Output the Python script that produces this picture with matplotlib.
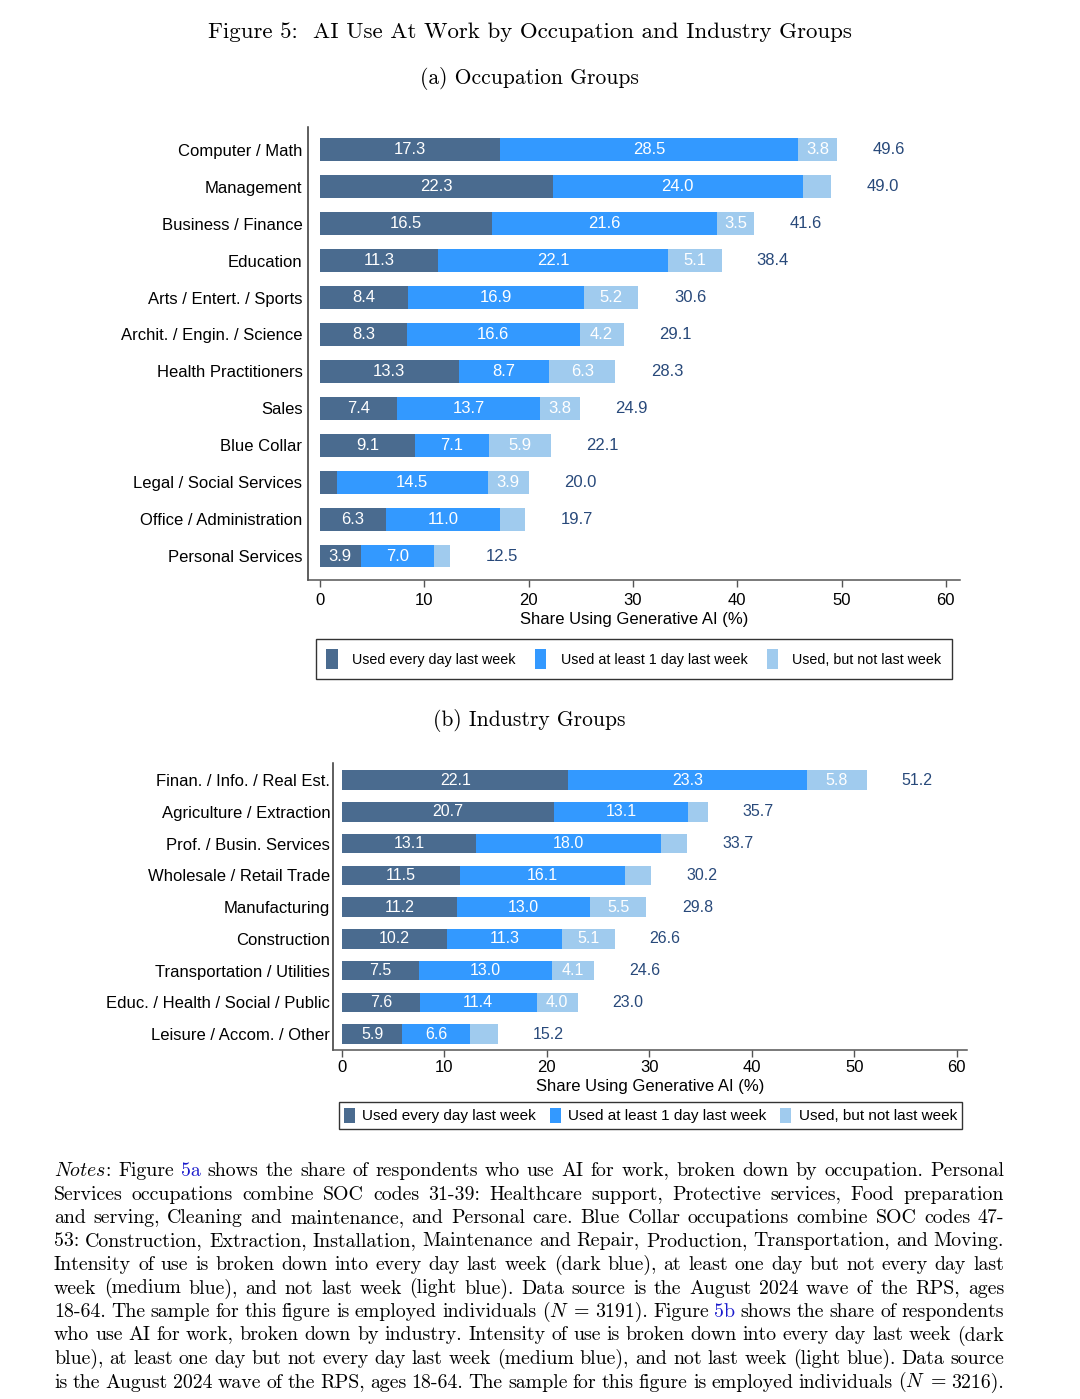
import matplotlib
matplotlib.use('Agg')
import matplotlib.pyplot as plt
from matplotlib.patches import Patch
import numpy as np

# ---------------- data ----------------
occ_labels = ['Computer / Math', 'Management', 'Business / Finance', 'Education',
              'Arts / Entert. / Sports', 'Archit. / Engin. / Science',
              'Health Practitioners', 'Sales', 'Blue Collar',
              'Legal / Social Services', 'Office / Administration', 'Personal Services']
occ_daily = [17.3, 22.3, 16.5, 11.3, 8.4, 8.3, 13.3, 7.4, 9.1, 1.6, 6.3, 3.9]
occ_weekly = [28.5, 24.0, 21.6, 22.1, 16.9, 16.6, 8.7, 13.7, 7.1, 14.5, 11.0, 7.0]
occ_notweek = [3.8, 2.7, 3.5, 5.1, 5.2, 4.2, 6.3, 3.8, 5.9, 3.9, 2.4, 1.6]
occ_total = [49.6, 49.0, 41.6, 38.4, 30.6, 29.1, 28.3, 24.9, 22.1, 20.0, 19.7, 12.5]

ind_labels = ['Finan. / Info. / Real Est.', 'Agriculture / Extraction',
              'Prof. / Busin. Services', 'Wholesale / Retail Trade', 'Manufacturing',
              'Construction', 'Transportation / Utilities', 'Educ. / Health / Social / Public',
              'Leisure / Accom. / Other']
ind_daily = [22.1, 20.7, 13.1, 11.5, 11.2, 10.2, 7.5, 7.6, 5.9]
ind_weekly = [23.3, 13.1, 18.0, 16.1, 13.0, 11.3, 13.0, 11.4, 6.6]
ind_notweek = [5.8, 1.9, 2.6, 2.6, 5.5, 5.1, 4.1, 4.0, 2.7]
ind_total = [51.2, 35.7, 33.7, 30.2, 29.8, 26.6, 24.6, 23.0, 15.2]

legend_labels = ['Used every day last week', 'Used at least 1 day last week',
                 'Used, but not last week']
xticks = [0, 10, 20, 30, 40, 50, 60]
xlabel = 'Share Using Generative AI (%)'

C_DARK = '#4a6b8f'
C_MED = '#3399ff'
C_LIGHT = '#a0cbee'
C_TOTAL = '#28497a'
C_SPINE = '#555555'

plt.rcParams['font.family'] = ['Liberation Sans', 'DejaVu Sans']
plt.rcParams['mathtext.fontset'] = 'cm'

W, H = 1080, 1399
fig = plt.figure(figsize=(W / 100, H / 100), dpi=100)


def fx(px):
    return px / W


def fy(py):
    return 1 - py / H


def panel(left_px, right_px, top_px, bottom_px, labels, d, w, n, tot, xlim, ylim,
          fs_tick, fs_bar, tick_pad, xpad, lpad):
    ax = fig.add_axes([fx(left_px), fy(bottom_px), (right_px - left_px) / W,
                       (bottom_px - top_px) / H])
    y = np.arange(len(labels))
    left = np.zeros(len(labels))
    for vals, c in [(d, C_DARK), (w, C_MED), (n, C_LIGHT)]:
        vals = np.array(vals, dtype=float)
        ax.barh(y, vals, left=left, height=0.62, color=c, edgecolor='none')
        for yi, l, v in zip(y, left, vals):
            if v >= 3:
                ax.text(l + v / 2, yi, f'{v:.1f}', ha='center', va='center',
                        color='white', fontsize=fs_bar)
        left = left + vals
    for yi, t in zip(y, tot):
        ax.text(t + 3.4, yi, f'{t:.1f}', ha='left', va='center', color=C_TOTAL,
                fontsize=fs_bar)
    ax.set_xlim(*xlim)
    ax.set_ylim(*ylim)
    ax.set_yticks(y, labels)
    ax.set_xticks(xticks)
    ax.tick_params(axis='y', length=0, pad=tick_pad, labelsize=fs_tick)
    ax.tick_params(axis='x', length=5, width=1, color=C_SPINE, labelsize=fs_tick, pad=xpad)
    for s in ['top', 'right']:
        ax.spines[s].set_visible(False)
    ax.spines['left'].set_color('#333333')
    ax.spines['bottom'].set_color(C_SPINE)
    ax.spines['left'].set_linewidth(1.1)
    ax.spines['bottom'].set_linewidth(1.1)
    ax.set_xlabel(xlabel, fontsize=fs_tick, labelpad=lpad)
    return ax


handles = [Patch(facecolor=c, edgecolor='none') for c in (C_DARK, C_MED, C_LIGHT)]

# Panel (a)
axa = panel(308, 960, 127, 580, occ_labels, occ_daily, occ_weekly, occ_notweek, occ_total,
            (-1.15, 61.36), (11.65, -0.62), 12, 12, 4, 4.5, 2.5)
lega = fig.legend(handles, legend_labels, loc='center', bbox_to_anchor=(fx(634), fy(659)),
                  ncol=3, frameon=True, fancybox=False, edgecolor='#333333', framealpha=1,
                  fontsize=10.3, handlelength=0.8, handleheight=1.7, handletextpad=1.0,
                  columnspacing=1.35, borderpad=0.75, borderaxespad=0)
lega.get_frame().set_linewidth(1.0)

# Panel (b)
axb = panel(333, 967, 763, 1050, ind_labels, ind_daily, ind_weekly, ind_notweek, ind_total,
            (-0.88, 61.0), (8.5, -0.54), 12, 11.5, 2, 2.5, 2.5)
legb = fig.legend(handles, legend_labels, loc='center', bbox_to_anchor=(fx(650.5), fy(1115.5)),
                  ncol=3, frameon=True, fancybox=False, edgecolor='#333333', framealpha=1,
                  fontsize=11, handlelength=0.7, handleheight=1.2, handletextpad=0.5,
                  columnspacing=0.9, borderpad=0.35, borderaxespad=0)
legb.get_frame().set_linewidth(1.0)

# Titles
serif = 'cmr10'
fig.text(fx(529.5), fy(32), 'Figure 5:  AI Use At Work by Occupation and Industry Groups',
         family=serif, fontsize=16.5, ha='center', va='center')
fig.text(fx(529.5), fy(79), '(a) Occupation Groups', family=serif, fontsize=15.5,
         ha='center', va='center')
fig.text(fx(529.5), fy(721), '(b) Industry Groups', family=serif, fontsize=15.5,
         ha='center', va='center')

# Notes (justified)
notes_lines = [
    r'$\mathit{Notes}$: Figure 5a shows the share of respondents who use AI for work, broken down by occupation. Personal',
    'Services occupations combine SOC codes 31-39: Healthcare support, Protective services, Food preparation',
    'and serving, Cleaning and maintenance, and Personal care. Blue Collar occupations combine SOC codes 47-',
    '53: Construction, Extraction, Installation, Maintenance and Repair, Production, Transportation, and Moving.',
    'Intensity of use is broken down into every day last week (dark blue), at least one day but not every day last',
    'week (medium blue), and not last week (light blue). Data source is the August 2024 wave of the RPS, ages',
    r'18-64. The sample for this figure is employed individuals ($N$ = 3191). Figure 5b shows the share of respondents',
    'who use AI for work, broken down by industry. Intensity of use is broken down into every day last week (dark',
    'blue), at least one day but not every day last week (medium blue), and not last week (light blue). Data source',
    r'is the August 2024 wave of the RPS, ages 18-64. The sample for this figure is employed individuals ($N$ = 3216).',
]
blue_words = {'5a', '5b'}
x0, x1 = 54, 1004
renderer = fig.canvas.get_renderer()
for i, line in enumerate(notes_lines):
    yb = 1176 + i * 23.5
    words = line.split(' ')
    texts = []
    for wd in words:
        t = fig.text(0, fy(yb), wd, family=serif, fontsize=14.3, ha='left', va='baseline',
                     color='#1a1acc' if wd in blue_words else 'black')
        texts.append(t)
    widths = [t.get_window_extent(renderer).width for t in texts]
    gap = (x1 - x0 - sum(widths)) / max(len(texts) - 1, 1)
    gap = max(gap, 2.0)
    xp = x0
    for t, wdt in zip(texts, widths):
        t.set_x(fx(xp))
        xp += wdt + gap

fig.savefig('out.png', dpi=100, facecolor='white')
